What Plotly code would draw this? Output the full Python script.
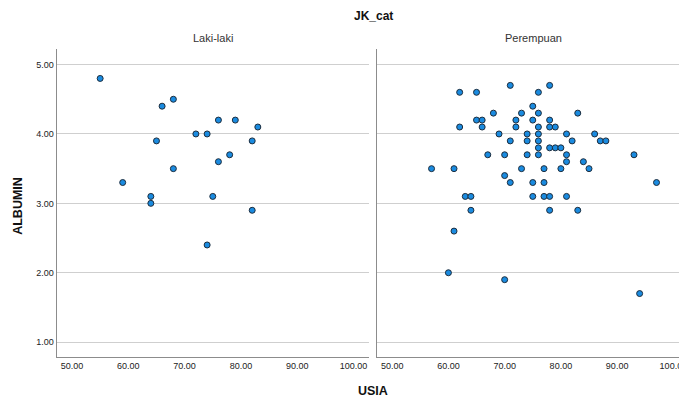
import plotly.graph_objects as go

# ---- data ----
male_age = [55, 68, 66, 76, 79, 83, 72, 74, 65, 82, 78, 76, 68, 59, 64, 64, 75, 82, 74]
male_alb = [4.8, 4.5, 4.4, 4.2, 4.2, 4.1, 4.0, 4.0, 3.9, 3.9, 3.7, 3.6, 3.5, 3.3, 3.1, 3.0, 3.1, 2.9, 2.4]

female_age = [71, 78,
              62, 65, 76,
              75,
              68, 73, 76, 83,
              65, 66, 72, 75, 78,
              62, 66, 72, 76, 78, 79,
              69, 74, 76, 81, 86,
              71, 74, 76, 82, 87, 88,
              76, 78, 79, 80,
              67, 70, 74, 76, 81, 93,
              81, 84,
              57, 61, 73, 77, 80, 85,
              70,
              71, 75, 77, 97,
              63, 64, 75, 77, 78, 81,
              64, 78, 83,
              61, 60, 70, 94]
female_alb = [4.7, 4.7,
              4.6, 4.6, 4.6,
              4.4,
              4.3, 4.3, 4.3, 4.3,
              4.2, 4.2, 4.2, 4.2, 4.2,
              4.1, 4.1, 4.1, 4.1, 4.1, 4.1,
              4.0, 4.0, 4.0, 4.0, 4.0,
              3.9, 3.9, 3.9, 3.9, 3.9, 3.9,
              3.8, 3.8, 3.8, 3.8,
              3.7, 3.7, 3.7, 3.7, 3.7, 3.7,
              3.6, 3.6,
              3.5, 3.5, 3.5, 3.5, 3.5, 3.5,
              3.4,
              3.3, 3.3, 3.3, 3.3,
              3.1, 3.1, 3.1, 3.1, 3.1, 3.1,
              2.9, 2.9, 2.9,
              2.6, 2.0, 1.9, 1.7]

panel_names = ["Laki-laki", "Perempuan"]
x_ticks = [50, 60, 70, 80, 90, 100]
y_ticks = [1, 2, 3, 4, 5]

W, H = 679, 398
FONT = "Liberation Sans, Arial, sans-serif"
fill = "#1a8be0"
edge = "#1d2d3d"

fig = go.Figure()
fig.add_trace(go.Scatter(x=male_age, y=male_alb, mode="markers", xaxis="x", yaxis="y",
                         marker=dict(size=6, color=fill, line=dict(color=edge, width=1)),
                         showlegend=False, hoverinfo="skip"))
fig.add_trace(go.Scatter(x=female_age, y=female_alb, mode="markers", xaxis="x2", yaxis="y2",
                         marker=dict(size=6, color=fill, line=dict(color=edge, width=1)),
                         showlegend=False, hoverinfo="skip"))

ydom = [(H - 356.7) / H, (H - 49.3) / H]
x1dom = [56.7 / W, 369.3 / W]
x2dom = [376.7 / W, 1.0]

common_x = dict(tickvals=x_ticks, tickformat=".2f", showgrid=False, zeroline=False,
                showline=True, linecolor="#8c8c8c", linewidth=1, ticks="",
                ticklabeloverflow="allow", automargin=False,
                tickfont=dict(family=FONT, size=9, color="#222"), fixedrange=True)
common_y = dict(tickvals=y_ticks, tickformat=".2f", range=[0.79, 5.22], showgrid=True,
                gridcolor="#cfcfcf", gridwidth=1, zeroline=False, showline=True,
                linecolor="#8c8c8c", linewidth=1, ticks="", automargin=False,
                tickfont=dict(family=FONT, size=9, color="#222"), fixedrange=True)

fig.update_layout(
    width=W, height=H, autosize=False,
    margin=dict(l=0, r=0, t=0, b=0),
    paper_bgcolor="white", plot_bgcolor="white",
    xaxis=dict(domain=x1dom, range=[47.28, 102.8], anchor="y", **common_x),
    xaxis2=dict(domain=x2dom, range=[47.25, 101.0], anchor="y2", **common_x),
    yaxis=dict(domain=ydom, anchor="x", **common_y),
    yaxis2=dict(domain=ydom, anchor="x2", showticklabels=False, **common_y),
    annotations=[
        dict(text="<b>JK_cat</b>", x=373.5 / W, y=(H - 15.7) / H, xref="paper", yref="paper",
             showarrow=False, xanchor="center", yanchor="middle",
             font=dict(family=FONT, size=12, color="#111")),
        dict(text=panel_names[0], x=(x1dom[0] + x1dom[1]) / 2, y=(H - 38.3) / H,
             xref="paper", yref="paper", showarrow=False, xanchor="center", yanchor="middle",
             font=dict(family=FONT, size=11, color="#333")),
        dict(text=panel_names[1], x=(376.7 + 689.3) / 2 / W, y=(H - 38.3) / H,
             xref="paper", yref="paper", showarrow=False, xanchor="center", yanchor="middle",
             font=dict(family=FONT, size=11, color="#333")),
        dict(text="<b>USIA</b>", x=373.3 / W, y=(H - 391) / H, xref="paper", yref="paper",
             showarrow=False, xanchor="center", yanchor="middle",
             font=dict(family=FONT, size=12.5, color="#111")),
        dict(text="<b>ALBUMIN</b>", x=18.3 / W, y=(H - 205.5) / H, xref="paper", yref="paper",
             showarrow=False, xanchor="center", yanchor="middle", textangle=-90,
             font=dict(family=FONT, size=12.5, color="#111")),
    ],
)

fig.write_html("out.html", config={"displayModeBar": False},
               post_script="document.body.style.margin='0px';document.body.style.overflow='hidden';")
